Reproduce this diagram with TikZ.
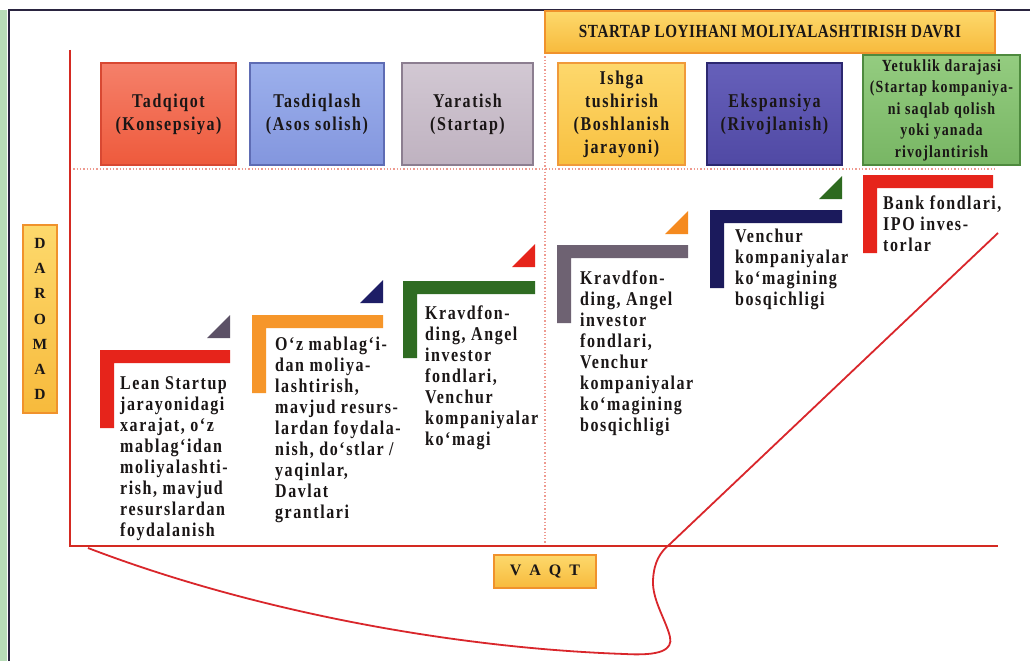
\documentclass[tikz,border=0pt]{standalone}
\usepackage{fontspec}
\setmainfont{Liberation Serif}
\newfontfamily\tf{Liberation Serif}[FakeStretch=0.82,LetterSpace=8]
\newfontfamily\tfs{Liberation Serif}[FakeStretch=0.82,LetterSpace=6.5]
\newfontfamily\tfh{Liberation Serif}[FakeStretch=0.82,LetterSpace=3]
\newfontfamily\tfa{Liberation Serif}
\definecolor{txt}{HTML}{1A1616}
\definecolor{axisred}{HTML}{D42A22}
\definecolor{curvered}{HTML}{D9262B}
\definecolor{dotred}{HTML}{EE9A90}
\definecolor{frameblue}{HTML}{2A2440}
\definecolor{stripgreen}{HTML}{B8DDB8}
\definecolor{goldtop}{HTML}{FDD96C}
\definecolor{goldbot}{HTML}{F7BA3C}
\definecolor{goldedge}{HTML}{F0922C}
\definecolor{bAtop}{HTML}{F5806A}\definecolor{bAbot}{HTML}{EE5A3C}\definecolor{bAedge}{HTML}{D84832}
\definecolor{bBtop}{HTML}{9CB0EC}\definecolor{bBbot}{HTML}{8396DE}\definecolor{bBedge}{HTML}{5E6CB4}
\definecolor{bCtop}{HTML}{D2C8D3}\definecolor{bCbot}{HTML}{BFB2C0}\definecolor{bCedge}{HTML}{8C7E90}
\definecolor{bDtop}{HTML}{FDD86C}\definecolor{bDbot}{HTML}{F8C040}\definecolor{bDedge}{HTML}{F09A3A}
\definecolor{bEtop}{HTML}{6660BA}\definecolor{bEbot}{HTML}{5049A4}\definecolor{bEedge}{HTML}{2C2870}
\definecolor{bFtop}{HTML}{94CC80}\definecolor{bFbot}{HTML}{78B664}\definecolor{bFedge}{HTML}{4E8A3E}
\definecolor{cRed}{HTML}{E6241B}
\definecolor{cOrange}{HTML}{F6962A}
\definecolor{cGreen}{HTML}{2F6C22}
\definecolor{cGrey}{HTML}{6E6272}
\definecolor{cNavy}{HTML}{1B1A5C}
\definecolor{tGrey}{HTML}{5C5166}
\definecolor{tNavy}{HTML}{1E1E66}
\definecolor{tOrange}{HTML}{F58A1F}
\definecolor{tGreen}{HTML}{2D6A1F}
\newcommand\stepL[5]{\fill[#5] (#1,#2) -- (#3,#2) -- (#3,#2+13) -- (#1+14,#2+13) -- (#1+14,#4) -- (#1,#4) -- cycle;}
\newcommand\tri[3]{\fill[#3] (#1-23,#2) -- (#1,#2) -- (#1,#2-23) -- cycle;}
\tikzset{
  stagebox/.style={draw, line width=1.2pt, inner sep=0pt, align=center, text=txt,
    font=\tf\bfseries\fontsize{19.5}{23}\selectfont},
  goldbox/.style={draw=goldedge, line width=1.2pt, top color=goldtop, bottom color=goldbot,
    inner sep=0pt, align=center, text=txt},
  bodytxt/.style={anchor=north west, inner sep=0pt, align=left, text=txt,
    font=\tf\bfseries\fontsize{19.5}{21}\selectfont},
  axisline/.style={draw=axisred, line width=2.4pt},
  dotline/.style={draw=dotred, line width=1.3pt, dash pattern=on 1.3pt off 2pt},
  curveline/.style={draw=curvered, line width=1.8pt},
}
\begin{document}
\begin{tikzpicture}[x=1pt,y=-1pt]
\useasboundingbox (0,0) rectangle (1030,661);
\fill[white] (0,0) rectangle (1030,661);
% frame
\fill[stripgreen] (0,10) rectangle (7,661);
\draw[frameblue, line width=1.5pt] (9,661) -- (9,10) -- (1030,10);
% dotted guide lines
\draw[dotline] (70,169) -- (995,169);
\draw[dotline] (545,53) -- (545,546);
% axes
\draw[axisline] (70,50) -- (70,546) -- (998,546);
% curve
\coordinate (c0) at (88,548);
\coordinate (c1) at (625,654);
\coordinate (c2) at (670,637);
\coordinate (c3) at (653,580);
\coordinate (c4) at (670,544);
\coordinate (c5) at (998,233);
\draw[curveline] (c0) .. controls (250,610) and (450,648) .. (c1)
  .. controls (660,656) and (673,650) .. (c2)
  .. controls (666,620) and (652,600) .. (c3)
  .. controls (654,562) and (660,552) .. (c4) -- (c5);
% header
\node[goldbox, minimum width=450pt, minimum height=42pt,
  font=\tfh\bfseries\fontsize{18.5}{20}\selectfont] (head) at (770,32)
  {STARTAP LOYIHANI MOLIYALASHTIRISH DAVRI};
% stage boxes
\node[stagebox, draw=bAedge, top color=bAtop, bottom color=bAbot, minimum width=135pt, minimum height=102pt] (s1) at (168.5,114) {Tadqiqot\\(Konsepsiya)};
\node[stagebox, draw=bBedge, top color=bBtop, bottom color=bBbot, minimum width=134pt, minimum height=102pt] (s2) at (317,114) {Tasdiqlash\\(Asos solish)};
\node[stagebox, draw=bCedge, top color=bCtop, bottom color=bCbot, minimum width=131pt, minimum height=102pt] (s3) at (467.5,114) {Yaratish\\(Startap)};
\node[stagebox, draw=bDedge, top color=bDtop, bottom color=bDbot, minimum width=127pt, minimum height=102pt] (s4) at (621.5,114) {Ishga\\tushirish\\(Boshlanish\\jarayoni)};
\node[stagebox, draw=bEedge, top color=bEtop, bottom color=bEbot, minimum width=135pt, minimum height=102pt] (s5) at (774.5,114) {Ekspansiya\\(Rivojlanish)};
\node[stagebox, draw=bFedge, top color=bFtop, bottom color=bFbot, minimum width=157pt, minimum height=110pt,
  font=\tfs\bfseries\fontsize{17}{21.5}\selectfont] (s6) at (941.5,110) {Yetuklik darajasi\\(Startap kompaniya-\\ni saqlab qolish\\yoki yanada\\rivojlantirish};
% step shapes
\stepL{100}{350}{230}{428}{cRed}
\stepL{252}{315}{383}{393}{cOrange}
\stepL{403}{281}{535}{358}{cGreen}
\stepL{557}{245}{688}{323}{cGrey}
\stepL{710}{210}{842}{288}{cNavy}
\stepL{863}{175}{993}{253}{cRed}
\tri{230}{338}{tGrey}
\tri{383}{303}{tNavy}
\tri{535}{267}{cRed}
\tri{688}{234}{tOrange}
\tri{842}{199}{tGreen}
% texts
\node[bodytxt] (t1) at (120,376) {Lean Startup\\jarayonidagi\\xarajat, o‘z\\mablag‘idan\\moliyalashti-\\rish, mavjud\\resurslardan\\foydalanish};
\node[bodytxt] (t2) at (275,337) {O‘z mablag‘i-\\dan moliya-\\lashtirish,\\mavjud resurs-\\lardan foydala-\\nish, do‘stlar /\\yaqinlar,\\Davlat\\grantlari};
\node[bodytxt] (t3) at (425,306) {Kravdfon-\\ding, Angel\\investor\\fondlari,\\Venchur\\kompaniyalar\\ko‘magi};
\node[bodytxt] (t4) at (580,271) {Kravdfon-\\ding, Angel\\investor\\fondlari,\\Venchur\\kompaniyalar\\ko‘magining\\bosqichligi};
\node[bodytxt] (t5) at (735,229) {Venchur\\kompaniyalar\\ko‘magining\\bosqichligi};
\node[bodytxt] (t6) at (883,196) {Bank fondlari,\\IPO inves-\\torlar};
% axis labels
\node[goldbox, minimum width=34pt, minimum height=188pt,
  font=\tfa\bfseries\fontsize{15.5}{25.2}\selectfont] (daromad) at (40,319) {D\\A\\R\\O\\M\\A\\D};
\node[goldbox, minimum width=102pt, minimum height=33pt,
  font=\tfa\bfseries\fontsize{16}{18}\selectfont] (vaqt) at (545,571.5) {V\hspace{8pt}A\hspace{8pt}Q\hspace{8pt}T};
\end{tikzpicture}
\end{document}
